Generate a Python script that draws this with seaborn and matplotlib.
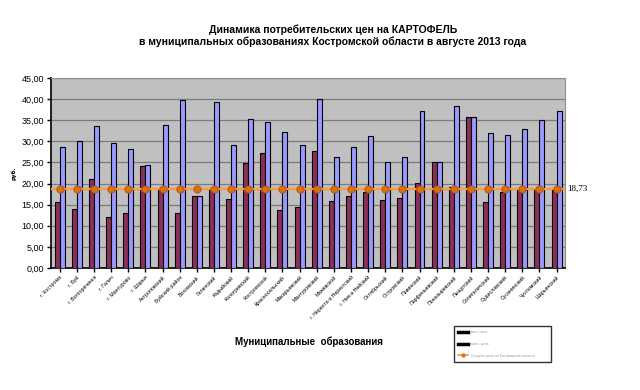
import matplotlib
matplotlib.use("Agg")
import matplotlib.pyplot as plt
import seaborn as sns
import pandas as pd
from matplotlib.lines import Line2D

# Data
regions = ["г. Кострома", "г. Буй", "г. Волгореченск", "г. Галич", "г. Мантурово", "г. Шарья",
           "Антроповский", "Буйский район", "Вохомский", "Галичский", "Кадыйский", "Кологривский",
           "Костромской", "Красносельский", "Макарьевский", "Мантуровский", "Межевской",
           "г. Нерехта и Нерехтский", "г. Нея и Нейский", "Октябрьский", "Островский", "Павинский",
           "Парфеньевский", "Поназыревский", "Пыщугский", "Солигаличский", "Судиславский",
           "Сусанинский", "Чухломский", "Шарьинский"]
min_price = [15.6, 14.05, 21.15, 12.0, 13.1, 24.2, 18.9, 13.1, 17.05, 18.9, 16.25, 24.9,
             27.3, 13.7, 14.5, 27.6, 15.8, 17.0, 17.9, 16.1, 16.65, 20.05, 25.0, 19.2,
             35.75, 15.6, 17.9, 18.7, 18.7, 18.9]
max_price = [28.65, 30.07, 33.6, 29.5, 28.1, 24.3, 33.85, 39.8, 17.05, 39.3, 29.2, 35.3,
             34.6, 32.2, 29.1, 40.0, 26.2, 28.7, 31.25, 25.1, 26.2, 37.1, 25.0, 38.3,
             35.75, 32.05, 31.6, 32.8, 35.05, 37.2]
avg_price = 18.73
series = ["Минимальная цена", "Максимальная цена"]

df = pd.DataFrame({"region": regions * 2,
                   "price": min_price + max_price,
                   "series": [series[0]] * len(regions) + [series[1]] * len(regions)})

fig = plt.figure(figsize=(6.4, 3.9), dpi=100)
ax = fig.add_axes([0.08, 0.313, 0.803, 0.487])
ax.set_facecolor("#C0C0C0")

sns.barplot(data=df, x="region", y="price", hue="series", hue_order=series, order=regions,
            palette=["#8B2F5A", "#9999FF"], width=0.58, edgecolor="black", linewidth=0.8,
            saturation=1, legend=False, ax=ax, zorder=3)

# average line with markers
ax.axhline(avg_price, color="#FF9933", lw=1.6, zorder=4)
sns.scatterplot(x=regions, y=[avg_price] * len(regions), color="#D9700F", edgecolor="#A04A00",
                s=28, linewidth=0.5, ax=ax, zorder=5, legend=False)
ax.text(len(regions) - 0.5 + 0.15, avg_price, "18,73", fontsize=6.5, family="Liberation Serif",
        va="center", ha="left")

ax.set_xlim(-0.5, len(regions) - 0.5)
ax.set_ylim(0, 45)
ax.set_yticks(range(0, 46, 5))
ax.set_yticklabels([f"{v},00" for v in range(0, 46, 5)], fontsize=6.5, family="Liberation Sans")
ax.set_xticks(range(len(regions)))
ax.set_xticklabels(regions, rotation=45, ha="right", rotation_mode="anchor", fontsize=3.8,
                   family="Liberation Sans")
ax.tick_params(axis="both", length=3, width=1, direction="out", pad=2)
ax.grid(axis="y", color="#7A7A7A", lw=0.9, zorder=0)
ax.set_axisbelow(True)
for s in ["top", "right"]:
    ax.spines[s].set_color("#909090")
    ax.spines[s].set_linewidth(0.8)
ax.spines["left"].set_linewidth(1.2)
ax.spines["bottom"].set_linewidth(1.2)

ax.set_xlabel("")
ax.set_ylabel("руб.", fontsize=4, fontweight="bold", labelpad=4)

fig.text(0.52, 0.925, "Динамика потребительских цен на КАРТОФЕЛЬ", ha="center", va="center",
         fontsize=7.5, fontweight="bold", family="Liberation Sans")
fig.text(0.52, 0.893, "в муниципальных образованиях Костромской области в августе 2013 года",
         ha="center", va="center", fontsize=7.5, fontweight="bold", family="Liberation Sans")
fig.text(0.483, 0.123, "Муниципальные  образования", ha="center", va="center",
         fontsize=7, fontweight="bold", family="Liberation Sans")

handles = [Line2D([], [], color="black", lw=2.5),
           Line2D([], [], color="black", lw=2.5),
           Line2D([], [], color="#FF9933", lw=1.2, marker="o", markersize=2,
                  markerfacecolor="#D9700F", markeredgecolor="#D9700F")]
labels = ["мин. цена", "макс. цена", "Средняя цена по Костромской области"]
leg = fig.legend(handles, labels, loc="lower left", bbox_to_anchor=(0.706, 0.068, 0.158, 0.118),
                 mode="expand", fontsize=2.5, frameon=True, fancybox=False, edgecolor="black",
                 handlelength=3, labelcolor="#999999", borderpad=1.2, labelspacing=2.2)
leg.get_frame().set_linewidth(1)
for t in leg.get_texts():
    t.set_fontfamily("Liberation Sans")

fig.savefig("out.png", dpi=100)
